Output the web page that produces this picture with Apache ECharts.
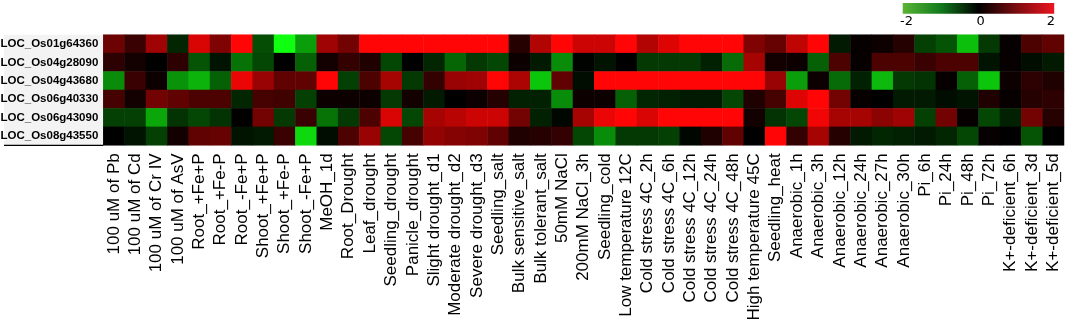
<!DOCTYPE html>
<html>
<head>
<meta charset="utf-8">
<script src="https://cdn.jsdelivr.net/npm/echarts@6/dist/echarts.min.js"></script>
<style>
  html, body { margin: 0; padding: 0; background: #fff; }
  #heatmap { width: 1065px; height: 328px; }
</style>
</head>
<body>
<div id="heatmap"></div>
<script>
var genes = ['LOC_Os01g64360', 'LOC_Os04g28090', 'LOC_Os04g43680', 'LOC_Os06g40330', 'LOC_Os06g43090', 'LOC_Os08g43550']

var conditions = [
  '100 uM of Pb', '100 uM of Cd', '100 uM of Cr IV', '100 uM of AsV',
  'Root_+Fe+P', 'Root_+Fe-P', 'Root_-Fe+P', 'Shoot_+Fe+P', 'Shoot_+Fe-P', 'Shoot_-Fe+P',
  'MeOH_1d', 'Root_Drought', 'Leaf_drought', 'Seedling_drought', 'Panicle_drought',
  'Slight drought_d1', 'Moderate drought_d2', 'Severe drought_d3', 'Seedling_salt',
  'Bulk sensitive_salt', 'Bulk tolerant_salt', '50mM NaCl', '200mM NaCl_3h',
  'Seedling_cold', 'Low temperature 12C', 'Cold stress 4C_2h', 'Cold stress 4C_6h',
  'Cold stress 4C_12h', 'Cold stress 4C_24h', 'Cold stress 4C_48h', 'High temperature 45C',
  'Seedling_heat', 'Anaerobic_1h', 'Anaerobic_3h', 'Anaerobic_12h', 'Anaerobic_24h',
  'Anaerobic_27h', 'Anaerobic_30h', 'Pi_6h', 'Pi_24h', 'Pi_48h', 'Pi_72h',
  'K+-deficient_6h', 'K+-deficient_3d', 'K+-deficient_5d'
]

// log2 fold change per gene, one value per condition
var os01g64360 = [0.85, 0.45, 1.25, -0.3, 1.7, 1.0, 2.0, -0.6, -2.0, -1.25, 1.25,
  0.9, 2.0, 2.0, 2.0, 2.0, 2.0, 2.0, 2.0, 0.3, 1.4, 2.0,
  1.6, 1.6, 2.0, 1.4, 1.75, 2.0, 2.0, 2.0, 1.0, 0.8, 1.5,
  2.0, -0.2, 0.05, 0.1, 0.3, -0.5, -0.65, -1.5, -0.45, 0.05, 0.6, 0.75]
var os04g28090 = [0.35, 0.15, 0, 0.35, -0.65, -0.15, -0.9, -0.55, 0, -0.75, 0.15,
  0.4, 0.25, -0.55, 0, -0.3, -0.8, -0.45, -0.55, 0.1, -0.2, -1.1,
  -0.02, -0.15, 0, -0.45, -0.45, -0.45, -0.25, -0.85, 1.3, 0.15, 0.1,
  -0.75, 0.6, 0.05, 0.6, 0.6, 0.45, 0.6, 0.6, -0.15, 0.05, -0.1, -0.2]
var os04g43680 = [-1.1, 0.45, 0.1, -1.15, -1.4, -0.75, 1.85, 1.2, 0.75, 0.75, 2.0,
  -0.5, 0.6, 1.3, -0.45, 0.4, 1.2, 1.25, 2.0, 1.35, -1.55, 0.75,
  -0.1, 2.0, 2.0, 2.0, 2.0, 2.0, 2.0, 2.0, 2.0, 1.2, -1.25,
  0.1, -0.85, -0.25, -1.45, -0.45, -0.4, 0.05, -0.75, -1.55, 0.1, 0.35, 0.25]
var os06g40330 = [0.55, 0.15, 0.9, 0.75, 0.6, 0.6, -0.3, 0.55, 0.5, -0.5, 0.1,
  0.1, 0.1, -0.45, 0.15, -0.2, 0, 0.1, 0.3, -0.25, -0.25, -1.1,
  0.1, 0.1, -0.75, -0.3, -0.25, -0.2, -0.2, -0.55, 0.25, 0.55, 1.75,
  2.0, 0.9, 0.05, 0, -0.2, -0.2, -0.1, -0.15, 0.25, 0.05, 0.3, 0.35]
var os06g43090 = [-0.5, -0.5, -1.3, -0.4, -0.55, -0.4, 0, 0.9, -0.45, 0.45, -0.9,
  -0.45, 0.6, 1.7, -0.55, 1.3, 1.45, 1.6, 1.6, 0.9, -0.25, -0.05,
  1.3, 1.85, 2.0, 1.7, 2.0, 2.0, 2.0, 2.0, 0.15, -0.4, -0.55,
  1.9, 1.3, 1.3, 1.1, 1.25, -0.5, 0.9, 0.05, -0.55, -0.25, 0.9, 0.3]
var os08g43550 = [0, -0.15, -0.5, 0.15, 0.75, 0.8, -0.15, -0.2, 0.45, -1.7, -0.1,
  0.6, 1.2, -0.55, 0.55, 1.15, 1.05, 1.0, 0.75, 0.25, 0.3, 0.4,
  -0.55, -1.1, -0.45, -0.45, -0.5, -0.05, 0.25, 0.75, 0, 2.0, 0.4,
  1.3, 0.3, -0.2, -0.3, -0.25, -0.2, -0.3, -0.55, 0.05, 0, -0.65, 0]

var legendTicks = ['-2', '0', '2']

var rows = [os01g64360, os04g28090, os04g43680, os06g40330, os06g43090, os08g43550]
var cells = []
rows.forEach(function (row, y) {
  row.forEach(function (v, x) {
    cells.push([x, y, v])
  })
})

var myChart = echarts.init(document.getElementById('heatmap'))

var option = {
  animation: false,
  backgroundColor: '#fff',
  grid: {
    left: 103.3,
    right: 1,
    top: 34.7,
    bottom: 182.7,
    containLabel: false,
    outerBoundsMode: 'none'
  },
  xAxis: {
    type: 'category',
    data: conditions,
    axisLine: { show: false },
    axisTick: { show: false },
    splitLine: { show: false },
    axisLabel: {
      interval: 0,
      rotate: 90,
      margin: 8,
      color: '#000',
      fontSize: 17,
      fontFamily: 'Liberation Sans, Arial, sans-serif'
    }
  },
  yAxis: {
    type: 'category',
    data: genes,
    inverse: true,
    axisLine: { show: false },
    axisTick: { show: false },
    splitLine: { show: false },
    axisLabel: {
      margin: 5,
      color: '#000',
      fontSize: 11.5,
      fontWeight: 'bold',
      fontFamily: 'Liberation Sans, Arial, sans-serif'
    }
  },
  visualMap: {
    show: false,
    type: 'continuous',
    min: -2,
    max: 2,
    dimension: 2,
    inRange: {
      color: ['#10ff10', '#000000', '#ff0505']
    }
  },
  graphic: [
    // light panel behind gene names
    {
      type: 'rect',
      z: -1,
      shape: { x: 4, y: 34.7, width: 99.3, height: 110.6 },
      style: { fill: '#f3f3f3' }
    },
    {
      type: 'line',
      shape: { x1: 4, y1: 145.3, x2: 103.3, y2: 145.3 },
      style: { stroke: '#000', lineWidth: 1.2 }
    },
    // colour key
    {
      type: 'rect',
      shape: { x: 902.7, y: 3, width: 151.5, height: 10.7 },
      style: {
        fill: new echarts.graphic.LinearGradient(0, 0, 1, 0, [
          { offset: 0, color: '#5ab535' },
          { offset: 0.25, color: '#117a1c' },
          { offset: 0.5, color: '#000000' },
          { offset: 0.75, color: '#7a0c10' },
          { offset: 1, color: '#ec1520' }
        ])
      }
    },
    {
      type: 'text',
      style: { text: legendTicks[0], x: 906.5, y: 22, align: 'center', verticalAlign: 'middle', fontSize: 13, fill: '#000', fontFamily: 'DejaVu Sans, sans-serif' }
    },
    {
      type: 'text',
      style: { text: legendTicks[1], x: 980.7, y: 22, align: 'center', verticalAlign: 'middle', fontSize: 13, fill: '#000', fontFamily: 'DejaVu Sans, sans-serif' }
    },
    {
      type: 'text',
      style: { text: legendTicks[2], x: 1051, y: 22, align: 'center', verticalAlign: 'middle', fontSize: 13, fill: '#000', fontFamily: 'DejaVu Sans, sans-serif' }
    }
  ],
  series: [
    {
      type: 'heatmap',
      data: cells,
      itemStyle: { borderWidth: 0 },
      emphasis: { disabled: true }
    }
  ]
}

myChart.setOption(option)
</script>
</body>
</html>
